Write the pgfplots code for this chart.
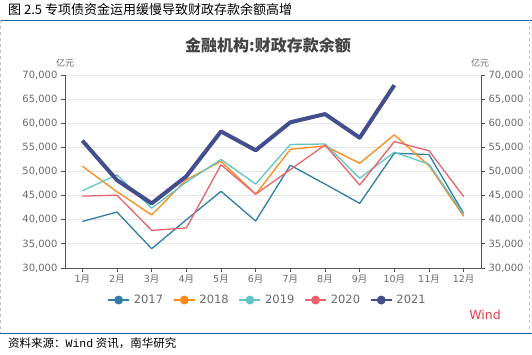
\documentclass[border=0pt]{standalone}
\usepackage{pgfplots}
\pgfplotsset{compat=1.18}
\usepackage{fontspec}
\setmainfont{Noto Sans CJK SC}
\setmonofont{Liberation Mono}
\newfontfamily\num{DejaVu Sans}
\definecolor{c17}{HTML}{2E7EA6}
\definecolor{c18}{HTML}{FF8A1C}
\definecolor{c19}{HTML}{62C5C1}
\definecolor{c20}{HTML}{E8636B}
\definecolor{c21}{HTML}{434F8C}
\definecolor{tickgray}{HTML}{6A6A6A}
\definecolor{gridgray}{HTML}{E6E6E6}
\definecolor{axisgray}{HTML}{555555}
\definecolor{hdrblue}{HTML}{1F5FAD}
\definecolor{windred}{HTML}{E8414B}
\definecolor{titlegray}{HTML}{444444}
\begin{document}
\begin{tikzpicture}
\useasboundingbox (0pt,0pt) rectangle (532pt,-354pt);
\fill[white] (0pt,0pt) rectangle (532pt,-354pt);
\node[anchor=west, inner sep=0pt, font=\fontsize{13}{15}\selectfont] at (8pt,-10pt) {图 2.5 专项债资金运用缓慢导致财政存款余额高增};
\draw[hdrblue, line width=1pt] (0pt,-20pt) -- (532pt,-20pt);
\draw[hdrblue, line width=1pt] (0pt,-333pt) -- (532pt,-333pt);
\draw[gray!50, dashed] (0.5pt,-20pt) -- (0.5pt,-333pt);
\draw[gray!50, dashed] (529pt,-20pt) -- (529pt,-333pt);
\node[anchor=west, inner sep=0pt, font=\fontsize{11.5}{13}\selectfont] at (8pt,-343pt) {资料来源：\texttt{Wind} 资讯，南华研究};
\node[font=\bfseries\fontsize{16}{18}\selectfont, text=titlegray] at (268pt,-45pt) {金融机构:财政存款余额};
\node[font=\fontsize{9}{11}\selectfont, text=tickgray] at (65pt,-63pt) {亿元};
\node[font=\fontsize{9}{11}\selectfont, text=tickgray] at (480pt,-63pt) {亿元};
\node[font=\num\fontsize{12.5}{14}\selectfont, text=windred] at (485pt,-315pt) {Wind};
\begin{axis}[
  at={(65pt,-268pt)}, anchor=south west, scale only axis,
  width=416pt, height=193pt,
  xmin=0.5, xmax=12.5, ymin=30000, ymax=70000,
  xtick={1,...,12},
  xticklabels={{\num 1}月,{\num 2}月,{\num 3}月,{\num 4}月,{\num 5}月,{\num 6}月,{\num 7}月,{\num 8}月,{\num 9}月,{\num 10}月,{\num 11}月,{\num 12}月},
  ytick={30000,35000,...,70000},
  scaled y ticks=false,
  ymajorgrids, grid style={gridgray, line width=1pt},
  axis x line*=bottom, axis y line*=left,
  axis line style={axisgray, line width=0.9pt, -},
  tick style={axisgray, line width=0.8pt},
  tick align=outside, major tick length=4pt,
  xticklabel style={font=\fontsize{9.5}{11}\selectfont, text=tickgray, yshift=1pt},
  yticklabel style={font=\num\fontsize{10}{12}\selectfont, text=tickgray},
  /pgf/number format/1000 sep={,}, /pgf/number format/assume math mode=true,
  legend style={at={(0.487,-0.166)}, anchor=center, legend columns=-1, draw=none, fill=none,
    font=\num\fontsize{11.5}{13}\selectfont, text=tickgray,
    /tikz/every odd column/.append style={column sep=2pt},
    /tikz/every even column/.append style={column sep=8pt}},
  legend image code/.code={\draw[#1] (0pt,0pt) -- (21pt,0pt); \fill[#1, draw=none] (10.5pt,0pt) circle (4.5pt);},
  every axis plot/.append style={line join=round, mark=none},
]
\addlegendimage{c17, line width=1.4pt}
\addlegendentry{2017}
\addlegendimage{c18, line width=1.4pt}
\addlegendentry{2018}
\addlegendimage{c19, line width=1.4pt}
\addlegendentry{2019}
\addlegendimage{c20, line width=1.4pt}
\addlegendentry{2020}
\addlegendimage{c21, line width=1.4pt}
\addlegendentry{2021}
\addplot[c17, line width=1.3pt, forget plot] coordinates {(1,39650) (2,41600) (3,34000) (4,40000) (5,45900) (6,39750) (7,51300) (8,47400) (9,43400) (10,53800) (11,53500) (12,41300)};
\addplot[c18, line width=1.3pt, forget plot] coordinates {(1,51100) (2,45800) (3,41000) (4,48300) (5,52100) (6,45300) (7,54600) (8,55300) (9,51700) (10,57600) (11,51200) (12,40700)};
\addplot[c19, line width=1.3pt, forget plot] coordinates {(1,46000) (2,49300) (3,42400) (4,47800) (5,52500) (6,47400) (7,55600) (8,55700) (9,48600) (10,54000) (11,51500) (12,41100)};
\addplot[c20, line width=1.3pt, forget plot] coordinates {(1,44900) (2,45100) (3,37800) (4,38300) (5,51400) (6,45300) (7,50400) (8,55500) (9,47200) (10,56200) (11,54300) (12,44800)};
\addplot[c21, line width=4pt, forget plot] coordinates {(1,56400) (2,48200) (3,43400) (4,49000) (5,58300) (6,54400) (7,60200) (8,61900) (9,57000) (10,67900)};
\end{axis}
\begin{axis}[
  at={(65pt,-268pt)}, anchor=south west, scale only axis,
  width=416pt, height=193pt,
  xmin=0.5, xmax=12.5, ymin=30000, ymax=70000,
  axis x line=none, axis y line*=right,
  axis line style={axisgray, line width=0.9pt, -},
  ytick={30000,35000,...,70000},
  scaled y ticks=false,
  tick style={axisgray, line width=0.8pt},
  tick align=outside, major tick length=4pt,
  yticklabel style={font=\num\fontsize{10}{12}\selectfont, text=tickgray},
  /pgf/number format/1000 sep={,}, /pgf/number format/assume math mode=true,
]
\addplot[draw=none] coordinates {(1,30000)};
\end{axis}
\end{tikzpicture}
\end{document}
